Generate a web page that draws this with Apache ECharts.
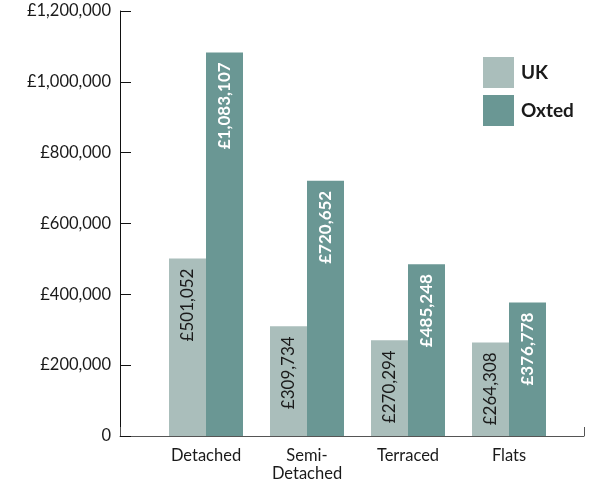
<!DOCTYPE html>
<html>
<head>
<meta charset="utf-8">
<script src="https://cdn.jsdelivr.net/npm/echarts@6/dist/echarts.min.js"></script>
<style>
  html, body { margin: 0; padding: 0; background: #fff; }
  #chart { width: 597px; height: 487px; }
</style>
</head>
<body>
<div id="chart"></div>
<script>
const categories = ["Detached", "Semi-\nDetached", "Terraced", "Flats"];
const ukValues = [501052, 309734, 270294, 264308];
const oxtedValues = [1083107, 720652, 485248, 376778];
const yMax = 1200000;
const yStep = 200000;

const FONT = "Lato";
const ukColor = "#aabebb";
const oxtedColor = "#6a9794";

const money = (v) => (v === 0 ? "0" : "£" + v.toLocaleString("en-GB"));

const chart = echarts.init(document.getElementById("chart"));

chart.setOption({
  animation: false,
  textStyle: { fontFamily: FONT },
  legend: {
    orient: "vertical",
    left: 478,
    top: 52,
    itemWidth: 31,
    itemHeight: 31,
    itemGap: 7,
    icon: "rect",
    textStyle: {
      fontSize: 19,
      fontWeight: "bold",
      color: "#1a1a1a",
      fontFamily: FONT,
      padding: [0, 0, 0, 2],
    },
    data: ["UK", "Oxted"],
  },
  grid: [
    // frame grid: carries the axis lines and the y labels
    { left: 120, right: 13, top: 11, bottom: 51 },
    // bar grid
    { left: 155.5, right: 37.5, top: 11, bottom: 51 },
  ],
  xAxis: [
    {
      gridIndex: 0,
      type: "value",
      min: 0,
      max: 1,
      interval: 1,
      axisLine: { show: true, lineStyle: { color: "#555", width: 1 } },
      axisTick: { show: true, inside: true, length: 9, lineStyle: { color: "#555" } },
      axisLabel: { show: false },
      splitLine: { show: false },
    },
    {
      gridIndex: 1,
      type: "category",
      data: categories,
      axisLine: { show: false },
      axisTick: { show: false },
      axisLabel: {
        margin: 11,
        fontSize: 16.5,
        lineHeight: 18,
        color: "#1a1a1a",
        fontFamily: FONT,
      },
    },
  ],
  yAxis: [
    {
      gridIndex: 0,
      type: "value",
      min: 0,
      max: yMax,
      interval: yStep,
      axisLine: { show: true, lineStyle: { color: "#111", width: 1 } },
      axisTick: { show: true, inside: true, length: 11, lineStyle: { color: "#111" } },
      axisLabel: {
        margin: 9,
        fontSize: 16.5,
        color: "#1a1a1a",
        fontFamily: FONT,
        formatter: money,
      },
      splitLine: { show: false },
    },
    {
      gridIndex: 1,
      type: "value",
      min: 0,
      max: yMax,
      interval: yStep,
      show: false,
    },
  ],
  series: [
    {
      name: "UK",
      type: "bar",
      xAxisIndex: 1,
      yAxisIndex: 1,
      data: ukValues,
      barWidth: 37,
      barGap: "0%",
      itemStyle: { color: ukColor },
      label: {
        show: true,
        position: "insideTop",
        rotate: 90,
        align: "right",
        verticalAlign: "middle",
        distance: 10,
        fontSize: 17,
        color: "#1a1a1a",
        fontFamily: FONT,
        formatter: (p) => money(p.value),
      },
    },
    {
      name: "Oxted",
      type: "bar",
      xAxisIndex: 1,
      yAxisIndex: 1,
      data: oxtedValues,
      barWidth: 37,
      barGap: "0%",
      itemStyle: { color: oxtedColor },
      label: {
        show: true,
        position: "insideTop",
        rotate: 90,
        align: "right",
        verticalAlign: "middle",
        distance: 10,
        fontSize: 17,
        fontWeight: "bold",
        color: "#ffffff",
        fontFamily: FONT,
        formatter: (p) => money(p.value),
      },
    },
  ],
});
</script>
</body>
</html>
